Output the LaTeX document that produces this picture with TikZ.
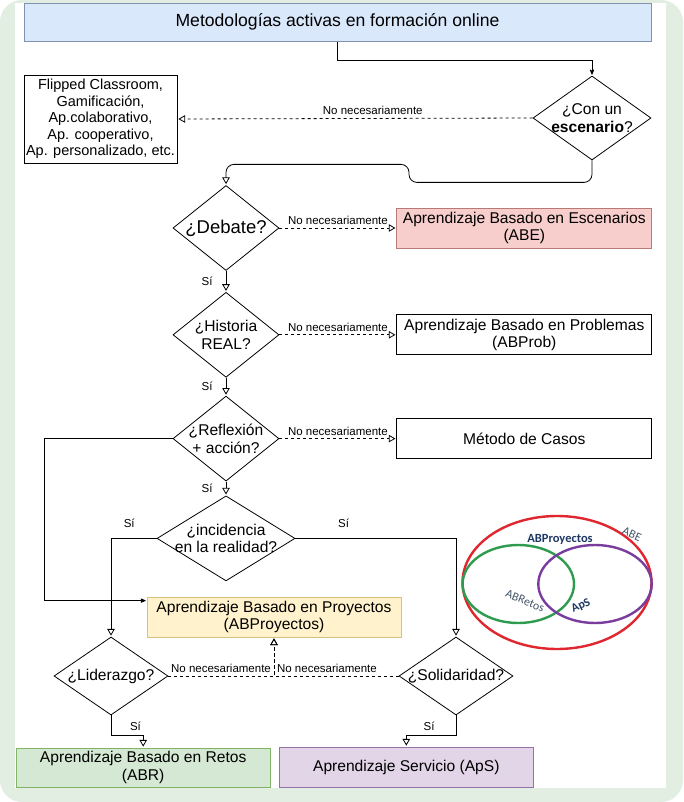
\documentclass[tikz,border=0pt]{standalone}
\usepackage{fontspec}
\setmainfont{Liberation Sans}
\newfontfamily\vennfont{Carlito}
\usetikzlibrary{arrows,shapes.geometric,positioning}

\definecolor{fondo}{HTML}{E1EEE1}
\definecolor{azul}{HTML}{DAE8FC}
\definecolor{azulborde}{HTML}{7F93B0}
\definecolor{rosa}{HTML}{F8CECC}
\definecolor{rosaborde}{HTML}{B87A76}
\definecolor{amarillo}{HTML}{FFF2CC}
\definecolor{amarilloborde}{HTML}{D6C27A}
\definecolor{verde}{HTML}{D5E8D4}
\definecolor{verdeborde}{HTML}{82B366}
\definecolor{lila}{HTML}{E1D5E7}
\definecolor{lilaborde}{HTML}{9673A6}
\definecolor{vrojo}{HTML}{E0262F}
\definecolor{vverde}{HTML}{2E9B4E}
\definecolor{vlila}{HTML}{7A3D9E}
\definecolor{vazul}{HTML}{1F3864}
\definecolor{vgris}{HTML}{44546A}

\begin{document}
\begin{tikzpicture}[x=1pt,y=-1pt,->,>=stealth',shorten >=1pt,auto,node distance=18pt,
  thick]
  \tikzstyle{caja}=[rectangle,draw=black,fill=white,minimum width=255pt,minimum height=40pt,
    align=center,inner sep=1pt,font=\fontsize{15.6}{17.5}\selectfont]
  \tikzstyle{decision}=[diamond,draw=black,fill=white,inner sep=0pt,minimum width=106pt,
    minimum height=85pt]
  \tikzstyle{dtxt}=[align=center,inner sep=0pt,font=\fontsize{15.6}{17.5}\selectfont]
  \tikzstyle{etiq}=[font=\fontsize{11.5}{13}\selectfont,inner sep=2pt]
  \tikzstyle{no}=[dashed,-open triangle 60]
  \tikzstyle{si}=[-open triangle 60]
  \tikzstyle{vtxt}=[font=\vennfont\fontsize{12}{13}\selectfont,text=vgris,inner sep=0pt]

  % fondo
  \fill[fondo,rounded corners=22pt] (0,0) rectangle (683,802);
  \fill[white] (15,3) rectangle (666,788);

  \node[caja,fill=azul,draw=azulborde,minimum width=627pt,minimum height=38.7pt,
    font=\fontsize{17.6}{20}\selectfont] (tit) at (337.5,22.3) {Metodologías activas en formación online};

  \node[decision,minimum width=118pt,minimum height=84pt] (esc) at (592,118) {};
  \node[dtxt] (esct) at (esc) {¿Con un\\\textbf{escenario}?};
  \node[caja,minimum width=153pt,minimum height=88pt,font=\fontsize{14.5}{16.5}\selectfont]
    (otras) at (100.5,119) {Flipped Classroom,\\Gamificación,\\Ap.colaborativo,\\Ap. cooperativo,\\Ap. personalizado, etc.};

  % columna de preguntas
  \node[decision]        (deb)                      at (226,228) {};
  \node[decision]        (hist) [below=21pt of deb]  {};
  \node[decision]        (refl) [below=of hist]      {};
  \node[decision,minimum width=138pt] (inc) [below=14pt of refl] {};
  \node[dtxt,font=\fontsize{18.5}{21}\selectfont] (debt) at (deb) {¿Debate?};
  \node[dtxt] (histt) at (hist) {¿Historia\\REAL?};
  \node[dtxt] (reflt) at (refl) {¿Reflexión\\+ acción?};
  \node[dtxt] (inct)  at (inc)  {¿incidencia\\en la realidad?};

  \node[caja,fill=rosa,draw=rosaborde] (abe)   [right=117pt of deb]  {Aprendizaje Basado en Escenarios\\(ABE)};
  \node[caja]                          (prob)  [right=117pt of hist] {Aprendizaje Basado en Problemas\\(ABProb)};
  \node[caja]                          (casos) [right=117pt of refl] {Método de Casos};

  \node[caja,fill=amarillo,draw=amarilloborde,minimum width=254pt] (proy) at (274,617) {Aprendizaje Basado en Proyectos\\(ABProyectos)};
  \node[decision,minimum width=114pt,minimum height=78pt] (lid) at (111,676) {};
  \node[decision,minimum width=114pt,minimum height=78pt] (sol) at (456,676) {};
  \node[dtxt] (lidt) at (lid) {¿Liderazgo?};
  \node[dtxt] (solt) at (sol) {¿Solidaridad?};
  \node[caja,fill=verde,draw=verdeborde,minimum width=254pt,minimum height=39pt] (abr) at (143.2,767.5) {Aprendizaje Basado en Retos\\(ABR)};
  \node[caja,fill=lila,draw=lilaborde,minimum width=254pt] (aps) at (406.3,767) {Aprendizaje Servicio (ApS)};

  % conexiones
  \draw (tit.south) -- ++(0,18) -| (esc.north);
  \draw[no] (esc.west) -- node[etiq,above=1pt,pos=0.45] (nn0) {No necesariamente} (otras.east);
  \draw[si,rounded corners=8pt] (esc.south) -- ++(0,22) -- ++(-183,0) -- ++(0,-18) -| (deb.north);
  \draw[no] (deb.east)  -- node[etiq,above=1pt] (nn1) {No necesariamente} (abe.west);
  \draw[no] (hist.east) -- node[etiq,above=1pt] (nn2) {No necesariamente} (prob.west);
  \draw[no] (refl.east) -- node[etiq,above=1pt] (nn3) {No necesariamente} (casos.west);
  \draw[si] (deb.south)  -- node[etiq,left=11pt] (s1) {Sí} (hist.north);
  \draw[si] (hist.south) -- node[etiq,left=11pt] (s2) {Sí} (refl.north);
  \draw[si] (refl.south) -- node[etiq,left=11pt] (s3) {Sí} (inc.north);
  \draw (refl.west) -- ++(-128,0) |- ([yshift=-4pt]proy.north west);
  \draw[si] (inc.west) -| node[etiq,above=8pt,pos=0.3]  (s4) {Sí} (lid.north);
  \draw[si] (inc.east) -| node[etiq,above=8pt,pos=0.15] (s5) {Sí} (sol.north);
  \draw[no] (lid.east) -| node[etiq,above left=1pt,pos=0.5]  (nn4) {No necesariamente} (proy.south);
  \draw[no] (sol.west) -| node[etiq,above right=1pt,pos=0.5] (nn5) {No necesariamente} (proy.south);
  \draw[si] (lid.south) -- ++(0,20) -| node[etiq,above=2pt,pos=0.38] (s6) {Sí} (abr.north);
  \draw[si] (sol.south) -- ++(0,20) -| node[etiq,above=2pt,pos=0.27] (s7) {Sí} (aps.north);

  % diagrama de Venn
  \draw[-,line width=2.4pt,vrojo]  (557,582.5) ellipse [x radius=94.5,y radius=66.5];
  \draw[-,line width=2.4pt,vverde] (518.3,584) ellipse [x radius=55.7,y radius=39];
  \draw[-,line width=2.4pt,vlila]  (595,584)   ellipse [x radius=56.7,y radius=39];
  \node[vtxt,text=vazul,font=\vennfont\bfseries\fontsize{12.5}{13}\selectfont] (vproy) at (560,539) {ABProyectos};
  \node[vtxt,rotate=-25] (vabe) at (632,534) {ABE};
  \node[vtxt,rotate=-22] (vret) at (525,601) {ABRetos};
  \node[vtxt,text=vazul,font=\vennfont\bfseries\fontsize{12}{13}\selectfont,rotate=25] (vaps) at (581,606) {ApS};
\end{tikzpicture}
\end{document}
